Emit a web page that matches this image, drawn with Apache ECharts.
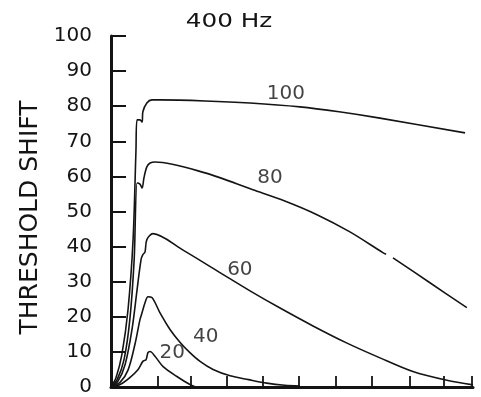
<!DOCTYPE html>
<html>
<head>
<meta charset="utf-8">
<script src="https://cdn.jsdelivr.net/npm/echarts@6/dist/echarts.min.js"></script>
<style>
  html, body { margin: 0; padding: 0; background: #ffffff; }
  #chart { width: 481px; height: 397px; }
</style>
</head>
<body>
<div id="chart"></div>
<script>
// Threshold shift growth and recovery at 400 Hz, one curve per exposure level
const titleText = '400 Hz';
const yAxisTitle = 'THRESHOLD SHIFT';
const yTicks = [0, 10, 20, 30, 40, 50, 60, 70, 80, 90, 100];
const xTickValues = [1.3, 2.2, 3.2, 4.2, 5.2, 6.2, 7.2, 8.25, 9.2, 9.97];

const levels = ['100', '80', '60', '40', '20'];

const curve100 = [
  [0, 0], [0.14, 2.7], [0.30, 9.2], [0.47, 22.0], [0.61, 42.0], [0.69, 67.5],
  [0.72, 76.1], [0.80, 76.1], [0.86, 75.5], [0.88, 78.4], [0.99, 80.9],
  [1.13, 81.8], [1.35, 81.8], [2.60, 81.5], [3.84, 80.9], [5.22, 79.8],
  [6.30, 78.4], [7.43, 76.6], [9.78, 72.4]
];
const curve80 = [
  [0, 0], [0.17, 2.1], [0.36, 7.8], [0.52, 19.2], [0.64, 36.3], [0.72, 58.1],
  [0.80, 57.8], [0.86, 56.7], [0.91, 59.6], [0.99, 62.7], [1.08, 63.8],
  [1.22, 64.1], [2.60, 61.0], [3.92, 56.2], [4.80, 53.0], [5.69, 49.1],
  [6.60, 44.2], [7.51, 38.3], [7.60, 37.8], [7.70, '-'], [7.79, 36.8],
  [8.81, 29.7], [9.83, 22.6]
];
const curve60 = [
  [0, 0], [0.19, 1.6], [0.39, 6.4], [0.58, 16.4], [0.72, 27.7], [0.83, 36.3],
  [0.88, 37.7], [0.94, 38.5], [0.99, 42.0], [1.16, 43.7], [1.99, 39.0],
  [3.01, 32.6], [3.84, 27.4], [4.67, 22.5], [5.58, 17.4], [6.52, 12.5],
  [7.43, 8.3], [8.34, 4.4], [9.28, 1.9], [10, 0.6]
];
const curve40 = [
  [0, 0], [0.25, 1.3], [0.47, 4.8], [0.66, 12.1], [0.80, 19.2], [0.86, 21.2],
  [0.88, 22.0], [0.94, 24.0], [1.02, 25.7], [1.13, 25.5], [1.35, 21.2],
  [1.63, 16.4], [1.91, 12.7], [2.18, 9.8], [2.46, 7.3], [2.82, 5.0],
  [3.29, 3.2], [3.80, 2.1], [4.30, 1.1], [4.80, 0.5], [5.22, 0.3]
];
const curve20 = [
  [0, 0], [0.25, 0.7], [0.52, 2.7], [0.75, 5.0], [0.88, 7.3], [0.97, 7.8],
  [1.02, 9.8], [1.08, 10.1], [1.22, 8.7], [1.44, 5.8], [1.82, 3.0],
  [2.18, 0.7], [2.32, 0.1]
];
const curves = [curve100, curve80, curve60, curve40, curve20];

// where each level's name is written beside its curve
const levelLabelPos = [
  [4.83, 83.5], [4.39, 59.6], [3.56, 33.4], [2.62, 14.4], [1.69, 9.8]
];

const ink = '#141414';
const font = 'DejaVu Sans';

const lineSeries = curves.map((pts, i) => ({
  type: 'line',
  name: levels[i],
  data: pts,
  showSymbol: false,
  smooth: 0.3,
  connectNulls: false,
  lineStyle: { color: ink, width: 1.6 },
  silent: true,
  z: 3
}));

const labelSeries = {
  type: 'scatter',
  symbolSize: 0,
  data: levelLabelPos.map((p, i) => ({ value: p, name: levels[i] })),
  label: {
    show: true,
    position: 'inside',
    formatter: (p) => p.name,
    color: ink,
    fontFamily: font,
    fontSize: 20
  },
  silent: true,
  z: 4
};

const chart = echarts.init(document.getElementById('chart'), null, { renderer: 'canvas' });
chart.setOption({
  animation: false,
  backgroundColor: '#ffffff',
  graphic: [{
    type: 'text',
    x: 229,
    y: 22,
    scaleX: 1.3,
    style: {
      text: titleText,
      fill: ink,
      font: '19px "DejaVu Sans"',
      align: 'center',
      verticalAlign: 'middle'
    }
  }],
  grid: { left: 111, right: 8, top: 36, bottom: 9.5, containLabel: false },
  xAxis: {
    type: 'value',
    min: 0,
    max: 10,
    splitLine: { show: false },
    axisLine: { show: true, lineStyle: { color: ink, width: 3 } },
    axisTick: {
      show: true,
      inside: true,
      length: 11,
      customValues: xTickValues,
      lineStyle: { color: ink, width: 1.8 }
    },
    axisLabel: { show: false }
  },
  yAxis: {
    type: 'value',
    min: yTicks[0],
    max: yTicks[yTicks.length - 1],
    interval: 10,
    name: yAxisTitle,
    nameLocation: 'middle',
    nameRotate: 90,
    nameGap: 66,
    nameTextStyle: { color: ink, fontFamily: font, fontSize: 25, padding: [0, 0, 0, -12] },
    splitLine: { show: false },
    axisLine: { show: true, lineStyle: { color: ink, width: 3 } },
    axisTick: { show: true, inside: true, length: 15, lineStyle: { color: ink, width: 2 } },
    axisLabel: {
      color: ink,
      fontFamily: font,
      fontSize: 20,
      margin: 19
    }
  },
  series: [...lineSeries, labelSeries]
});
</script>
</body>
</html>
